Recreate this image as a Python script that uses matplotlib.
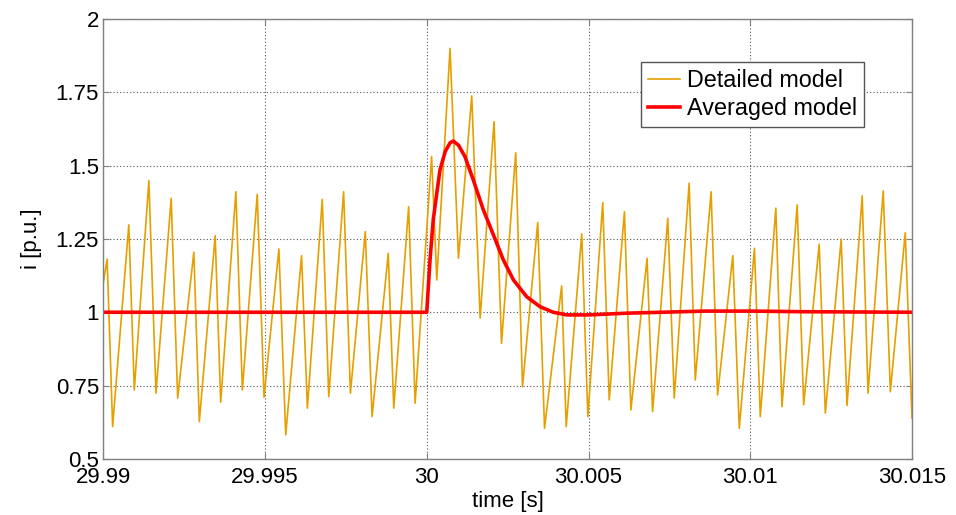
import matplotlib
matplotlib.use("Agg")
import matplotlib.pyplot as plt

plt.rcParams['font.family'] = ['Liberation Sans', 'DejaVu Sans']

# Detailed model (switching ripple), vertices
t_detailed = [
    29.99000, 29.99012, 29.99029, 29.99079, 29.99096, 29.99141, 29.99163, 29.99210,
    29.99230, 29.99280, 29.99297, 29.99346, 29.99363, 29.99410, 29.99430, 29.99476,
    29.99497, 29.99543, 29.99564, 29.99613, 29.99631, 29.99677, 29.99697, 29.99743,
    29.99764, 29.99810, 29.99831, 29.99881, 29.99898, 29.99944, 29.99964, 30.00015,
    30.00031, 30.00072, 30.00098, 30.00139, 30.00165, 30.00208, 30.00231, 30.00275,
    30.00296, 30.00343, 30.00364, 30.00417, 30.00431, 30.00479, 30.00498, 30.00544,
    30.00564, 30.00611, 30.00631, 30.00681, 30.00698, 30.00745, 30.00765, 30.00811,
    30.00830, 30.00879, 30.00899, 30.00946, 30.00966, 30.01013, 30.01031, 30.01079,
    30.01098, 30.01145, 30.01165, 30.01213, 30.01232, 30.01281, 30.01299, 30.01346,
    30.01364, 30.01411, 30.01433, 30.01479, 30.01500,
]
i_detailed = [
    1.100, 1.181, 0.610, 1.298, 0.735, 1.449, 0.724, 1.389,
    0.707, 1.205, 0.627, 1.261, 0.693, 1.411, 0.735, 1.402,
    0.710, 1.216, 0.582, 1.193, 0.673, 1.385, 0.712, 1.411,
    0.724, 1.275, 0.644, 1.201, 0.673, 1.360, 0.690, 1.531,
    1.110, 1.900, 1.184, 1.738, 0.980, 1.650, 0.894, 1.544,
    0.746, 1.306, 0.604, 1.090, 0.610, 1.267, 0.644, 1.374,
    0.701, 1.343, 0.667, 1.184, 0.661, 1.320, 0.707, 1.440,
    0.769, 1.411, 0.718, 1.193, 0.604, 1.218, 0.644, 1.355,
    0.678, 1.366, 0.684, 1.232, 0.656, 1.249, 0.682, 1.397,
    0.724, 1.414, 0.729, 1.271, 0.639,
]

# Averaged model
t_avg = [
    29.99000, 30.00000, 30.00010, 30.00020, 30.00031, 30.00041, 30.00057, 30.00072,
    30.00082, 30.00098, 30.00118, 30.00144, 30.00175, 30.00206, 30.00237, 30.00268,
    30.00309, 30.00350, 30.00391, 30.00433, 30.00474, 30.00500, 30.00622, 30.00861,
    30.01000, 30.01154, 30.01500,
]
i_avg = [
    1.000, 1.000, 1.178, 1.315, 1.406, 1.486, 1.548, 1.578,
    1.584, 1.570, 1.531, 1.451, 1.349, 1.264, 1.178, 1.110,
    1.053, 1.019, 1.000, 0.991, 0.991, 0.991, 0.997, 1.004,
    1.004, 1.002, 1.000,
]

x_ticks = [29.99, 29.995, 30.0, 30.005, 30.01, 30.015]
x_labels = ['29.99', '29.995', '30', '30.005', '30.01', '30.015']
y_ticks = [0.5, 0.75, 1.0, 1.25, 1.5, 1.75, 2.0]
y_labels = ['0.5', '0.75', '1', '1.25', '1.5', '1.75', '2']

fig = plt.figure(figsize=(9.56, 5.15), dpi=100)
ax = fig.add_axes([0.108, 0.109, 0.846, 0.854])

ax.plot(t_detailed, i_detailed, color='#E5A000', lw=1.2, label='Detailed model')
ax.plot(t_avg, i_avg, color='#FF0000', lw=2.6, label='Averaged model',
        solid_joinstyle='round')

ax.set_xlim(29.99, 30.015)
ax.set_ylim(0.5, 2.0)
ax.set_xticks(x_ticks)
ax.set_xticklabels(x_labels)
ax.set_yticks(y_ticks)
ax.set_yticklabels(y_labels)

ax.tick_params(axis='both', direction='in', length=4, width=0.8, color='#808080',
               labelsize=16, top=True, right=True)
ax.tick_params(axis='x', pad=6)
ax.tick_params(axis='y', pad=3)
for s in ax.spines.values():
    s.set_color('#808080')
    s.set_linewidth(1.0)

ax.grid(True, color='#555555', linestyle=(0, (1, 2)), linewidth=0.8)

ax.set_xlabel('time [s]', fontsize=16, labelpad=2)
ax.set_ylabel('i [p.u.]', fontsize=16, labelpad=10)

leg = ax.legend(loc='upper left', bbox_to_anchor=(0.665, 0.902), borderaxespad=0,
                fontsize=16.8, handlelength=1.35, handletextpad=0.3, labelspacing=0.2,
                borderpad=0.3, fancybox=False, framealpha=1)
leg.get_frame().set_edgecolor('#555555')
leg.get_frame().set_linewidth(1.0)

fig.savefig('out.png', dpi=100)
